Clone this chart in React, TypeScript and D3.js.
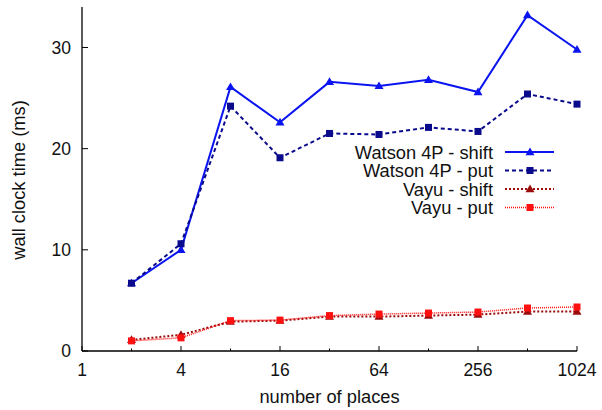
import React from 'react';
import * as d3 from 'd3';

const places = [2, 4, 8, 16, 32, 64, 128, 256, 512, 1024];
const watsonShift = [6.7, 10.0, 26.1, 22.6, 26.6, 26.2, 26.8, 25.6, 33.2, 29.8];
const watsonPut = [6.7, 10.6, 24.2, 19.1, 21.5, 21.4, 22.1, 21.7, 25.4, 24.4];
const vayuShift = [1.1, 1.6, 2.9, 3.0, 3.4, 3.4, 3.5, 3.6, 3.9, 3.9];
const vayuPut = [1.0, 1.3, 3.0, 3.05, 3.5, 3.65, 3.75, 3.85, 4.25, 4.35];
const xTicks = [1, 2, 4, 8, 16, 32, 64, 128, 256, 512, 1024];
const xLabels = [1, 4, 16, 64, 256, 1024];
const yTicks = [0, 10, 20, 30];

const series = [
  { name: 'Watson 4P - shift', values: watsonShift, color: '#0a14f0', dash: '', width: 2, marker: 'tri' },
  { name: 'Watson 4P - put', values: watsonPut, color: '#0a0a8c', dash: '4,3', width: 2, marker: 'sq' },
  { name: 'Vayu - shift', values: vayuShift, color: '#9a0c0c', dash: '2,2', width: 2, marker: 'tri' },
  { name: 'Vayu - put', values: vayuPut, color: '#ff1010', dash: '1,1', width: 1.5, marker: 'sq' },
];

const W = 602;
const H = 410;
const left = 82;
const right = 577;
const top = 7;
const bottom = 351;
const font = '"Liberation Sans", Arial, Helvetica, sans-serif';
const fs = 18.3;
const tickFs = 17.5;

const Marker: React.FC<{ kind: string; x: number; y: number; color: string }> = ({ kind, x, y, color }) => {
  if (kind === 'tri') {
    const s = 4.5;
    return <path d={`M${x},${y - s}L${x + s},${y + s * 0.7}L${x - s},${y + s * 0.7}Z`} fill={color} />;
  }
  return <rect x={x - 3.5} y={y - 3.5} width={7} height={7} fill={color} />;
};

export default function App() {
  const x = d3.scaleLog().base(2).domain([1, 1024]).range([left, right]);
  const y = d3.scaleLinear().domain([0, 34]).range([bottom, top]);
  const line = d3
    .line<number>()
    .x((_, i) => x(places[i]))
    .y((d) => y(d));

  return (
    <svg width={W} height={H} style={{ position: 'absolute', left: 0, top: 0 }} fontFamily={font}>
      <rect width={W} height={H} fill="#fff" />
      {/* axes */}
      <line x1={left} y1={top} x2={left} y2={bottom} stroke="#000" strokeWidth={1.3} />
      <line x1={left} y1={bottom} x2={right} y2={bottom} stroke="#000" strokeWidth={1.3} />
      {yTicks.map((t) => (
        <g key={t}>
          <line x1={left} x2={left + 6} y1={y(t)} y2={y(t)} stroke="#000" strokeWidth={1} />
          <text x={71} y={y(t)} dy="0.36em" textAnchor="end" fontSize={tickFs} fill="#111">
            {t}
          </text>
        </g>
      ))}
      {xTicks.map((t) => {
        const major = xLabels.includes(t);
        return (
          <line key={t} x1={x(t)} x2={x(t)} y1={bottom} y2={bottom - (major ? 5 : 2.5)} stroke="#000" strokeWidth={1} />
        );
      })}
      {xLabels.map((t) => (
        <text key={t} x={x(t)} y={376} textAnchor="middle" fontSize={tickFs} fill="#111">
          {t}
        </text>
      ))}
      <text x={(left + right) / 2} y={403} textAnchor="middle" fontSize={fs} fill="#111">
        number of places
      </text>
      <text transform={`translate(25,180) rotate(-90)`} textAnchor="middle" fontSize={fs} fill="#111">
        wall clock time (ms)
      </text>
      {/* series */}
      {series.map((s) => (
        <g key={s.name}>
          <path d={line(s.values) || ''} fill="none" stroke={s.color} strokeWidth={s.width} strokeDasharray={s.dash} />
          {s.values.map((v, i) => (
            <Marker key={i} kind={s.marker} x={x(places[i])} y={y(v)} color={s.color} />
          ))}
        </g>
      ))}
      {/* legend */}
      {series.map((s, i) => {
        const ly = 152 + i * 18.5;
        return (
          <g key={s.name}>
            <text x={493} y={ly} dy="0.36em" textAnchor="end" fontSize={fs} fill="#111">
              {s.name}
            </text>
            <line x1={505} x2={554} y1={ly} y2={ly} stroke={s.color} strokeWidth={s.width} strokeDasharray={s.dash} />
            <Marker kind={s.marker} x={530} y={ly} color={s.color} />
          </g>
        );
      })}
    </svg>
  );
}
